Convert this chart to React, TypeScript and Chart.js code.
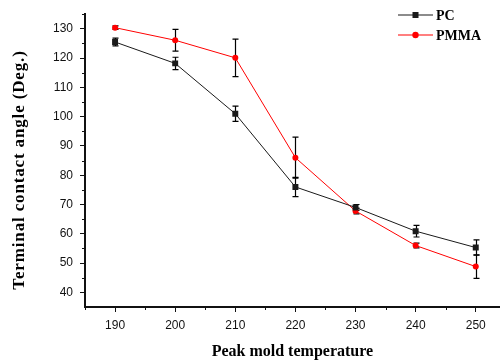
import React, { useEffect, useRef } from 'react';
import { Chart, registerables } from 'chart.js';

Chart.register(...registerables);

const temperatures = [190, 200, 210, 220, 230, 240, 250];
const pcValues = [125.5, 118.2, 101, 76, 69, 60.9, 55.3];
const pcErrors = [1.3, 2.1, 2.6, 3.3, 1, 2, 2.6];
const pmmaValues = [130.4, 126.1, 120.1, 86, 67.8, 56, 48.8];
const pmmaErrors = [0.6, 3.7, 6.4, 7, 1, 0.8, 4];

const xTickValues = [190, 200, 210, 220, 230, 240, 250];
const xMinorTicks = [185, 195, 205, 215, 225, 235, 245];
const yTickValues = [40, 50, 60, 70, 80, 90, 100, 110, 120, 130];
const yMinorTicks = [45, 55, 65, 75, 85, 95, 105, 115, 125, 135];

const seriesNames = ['PC', 'PMMA'];
const xTitle = 'Peak mold temperature';
const yTitle = 'Terminal contact angle (Deg.)';

const PC_COLOR = '#1a1a1a';
const PMMA_COLOR = '#ff0000';

const errorBarPlugin = {
  id: 'errorBars',
  beforeDatasetsDraw(chart: any) {
    const { ctx, scales } = chart;
    const x = scales.x;
    const y = scales.y;
    const sets = [
      { v: pcValues, e: pcErrors },
      { v: pmmaValues, e: pmmaErrors },
    ];
    ctx.save();
    ctx.strokeStyle = '#000';
    ctx.lineWidth = 1.2;
    sets.forEach((s) => {
      temperatures.forEach((t, i) => {
        const px = Math.round(x.getPixelForValue(t)) + 0.5;
        const top = y.getPixelForValue(s.v[i] + s.e[i]);
        const bot = y.getPixelForValue(s.v[i] - s.e[i]);
        ctx.beginPath();
        ctx.moveTo(px, top);
        ctx.lineTo(px, bot);
        ctx.moveTo(px - 3, top);
        ctx.lineTo(px + 3, top);
        ctx.moveTo(px - 3, bot);
        ctx.lineTo(px + 3, bot);
        ctx.stroke();
      });
    });
    ctx.restore();
  },
};

const decorPlugin = {
  id: 'decor',
  afterDraw(chart: any) {
    const { ctx, scales, chartArea } = chart;
    const x = scales.x;
    const y = scales.y;
    ctx.save();
    ctx.strokeStyle = '#111';
    ctx.lineWidth = 1;
    // minor ticks
    xMinorTicks.forEach((v) => {
      const px = Math.round(x.getPixelForValue(v)) + 0.5;
      ctx.beginPath();
      ctx.moveTo(px, chartArea.bottom);
      ctx.lineTo(px, chartArea.bottom + 3);
      ctx.stroke();
    });
    yMinorTicks.forEach((v) => {
      const py = Math.round(y.getPixelForValue(v)) + 0.5;
      ctx.beginPath();
      ctx.moveTo(chartArea.left, py);
      ctx.lineTo(chartArea.left - 3, py);
      ctx.stroke();
    });

    // y-axis title
    ctx.save();
    ctx.translate(20, 170);
    ctx.rotate(-Math.PI / 2);
    ctx.fillStyle = '#000';
    ctx.font = 'bold 17px "Liberation Serif", "Times New Roman", serif';
    (ctx as any).letterSpacing = '0.85px';
    ctx.textAlign = 'center';
    ctx.textBaseline = 'middle';
    ctx.fillText(yTitle, 0, 0);
    (ctx as any).letterSpacing = '0px';
    ctx.restore();

    // legend
    const colors = [PC_COLOR, PMMA_COLOR];
    const rowsY = [15, 35];
    seriesNames.forEach((name, i) => {
      const ly = rowsY[i];
      ctx.strokeStyle = colors[i];
      ctx.lineWidth = 1.2;
      ctx.beginPath();
      ctx.moveTo(398, ly);
      ctx.lineTo(433, ly);
      ctx.stroke();
      ctx.fillStyle = colors[i];
      if (i === 0) {
        ctx.fillRect(412.5, ly - 3, 6, 6);
      } else {
        ctx.beginPath();
        ctx.arc(415.5, ly, 3.2, 0, Math.PI * 2);
        ctx.fill();
      }
      ctx.fillStyle = '#000';
      ctx.font = 'bold 14px "Liberation Serif", "Times New Roman", serif';
      ctx.textAlign = 'left';
      ctx.textBaseline = 'middle';
      ctx.fillText(name, 436, ly + 1);
    });
    ctx.restore();
  },
};

export default function App() {
  const canvasRef = useRef<HTMLCanvasElement | null>(null);

  useEffect(() => {
    document.body.style.margin = '0';
    const canvas = canvasRef.current;
    if (!canvas) return;
    const tickFont = { family: '"Liberation Sans", Arial, sans-serif', size: 12 };
    const chart = new Chart(canvas, {
      type: 'line',
      data: {
        datasets: [
          {
            label: seriesNames[0],
            data: temperatures.map((t, i) => ({ x: t, y: pcValues[i] })),
            borderColor: PC_COLOR,
            backgroundColor: PC_COLOR,
            borderWidth: 1,
            pointStyle: 'rect',
            pointRadius: 4.2,
            pointBorderWidth: 0,
            tension: 0,
          },
          {
            label: seriesNames[1],
            data: temperatures.map((t, i) => ({ x: t, y: pmmaValues[i] })),
            borderColor: PMMA_COLOR,
            backgroundColor: PMMA_COLOR,
            borderWidth: 1,
            pointStyle: 'circle',
            pointRadius: 3,
            pointBorderWidth: 0,
            tension: 0,
          },
        ],
      },
      options: {
        responsive: false,
        animation: false,
        devicePixelRatio: 1,
        layout: { padding: { top: 10, right: 0, left: 0, bottom: 0 } },
        plugins: {
          legend: { display: false },
          tooltip: { enabled: false },
        },
        scales: {
          x: {
            type: 'linear',
            min: 185,
            max: 254,
            afterBuildTicks: (s: any) => {
              s.ticks = xTickValues.map((v) => ({ value: v }));
            },
            afterFit: (s: any) => {
              s.height = 55;
            },
            ticks: { font: tickFont, color: '#111', padding: 6, maxRotation: 0 },
            grid: {
              drawOnChartArea: false,
              drawTicks: true,
              tickLength: 5,
              tickColor: '#111',
              tickWidth: 1,
            },
            border: { color: '#111', width: 2 },
            title: {
              display: true,
              text: xTitle,
              color: '#000',
              font: { family: '"Liberation Serif", "Times New Roman", serif', size: 16, weight: 'bold' },
              padding: { top: 0, bottom: 1 },
            },
          },
          y: {
            type: 'linear',
            min: 35,
            max: 135,
            afterBuildTicks: (s: any) => {
              s.ticks = yTickValues.map((v) => ({ value: v }));
            },
            afterFit: (s: any) => {
              s.width = 85;
            },
            ticks: { font: tickFont, color: '#111', padding: 7 },
            grid: {
              drawOnChartArea: false,
              drawTicks: true,
              tickLength: 5,
              tickColor: '#111',
              tickWidth: 1,
            },
            border: { color: '#111', width: 2 },
          },
        },
      },
      plugins: [errorBarPlugin, decorPlugin],
    } as any);
    return () => chart.destroy();
  }, []);

  return (
    <div style={{ width: 504, height: 362, background: '#fff' }}>
      <canvas ref={canvasRef} width={504} height={362} style={{ display: 'block' }} />
    </div>
  );
}
